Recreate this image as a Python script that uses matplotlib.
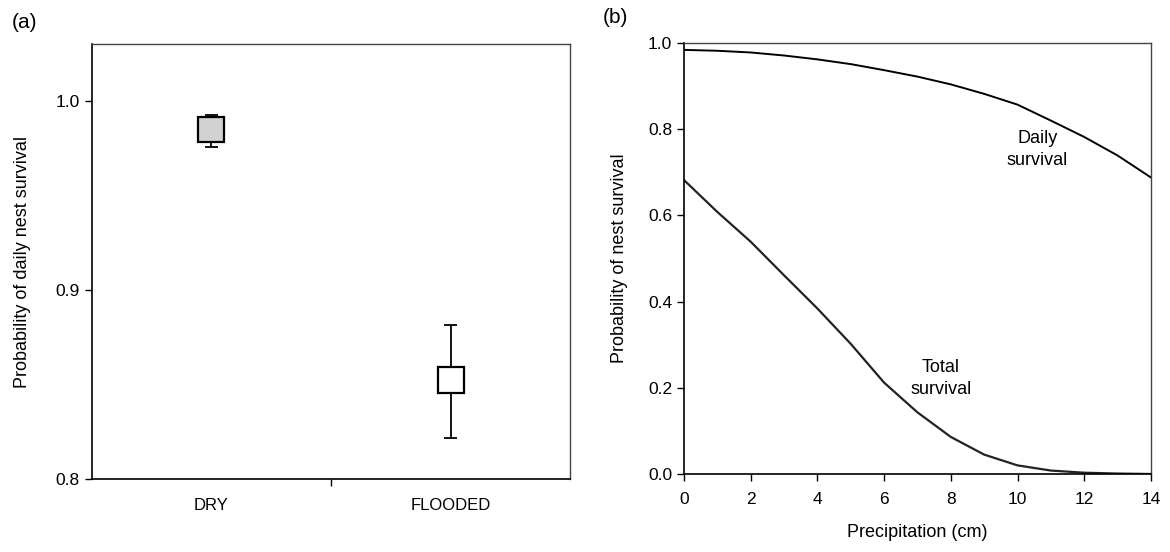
import numpy as np
import matplotlib.pyplot as plt

plt.rcParams['font.family'] = ['Liberation Sans', 'DejaVu Sans']

# (a) daily nest survival by nest condition
categories = ["DRY", "FLOODED"]
box_low = [0.978, 0.8455]
box_high = [0.9915, 0.8593]
whisker_low = [0.9757, 0.8217]
whisker_high = [0.9926, 0.8815]
box_fill = ["#d2d2d2", "white"]

# (b) survival against precipitation
precip = [0, 1, 2, 3, 4, 5, 6, 7, 8, 9, 10, 11, 12, 13, 14]
daily = [0.984, 0.982, 0.978, 0.971, 0.962, 0.951, 0.937, 0.922, 0.904,
         0.882, 0.857, 0.820, 0.782, 0.739, 0.688]
total = [0.682, 0.608, 0.539, 0.461, 0.384, 0.302, 0.212, 0.143, 0.086,
         0.045, 0.020, 0.008, 0.003, 0.001, 0.0]

fig = plt.figure(figsize=(11.7, 5.52), dpi=100)
ax1 = fig.add_axes([0.0784, 0.1322, 0.409, 0.788])
ax2 = fig.add_axes([0.5846, 0.1413, 0.3991, 0.7808])


def style_axes(ax):
    for side in ["left", "bottom"]:
        ax.spines[side].set_linewidth(1.2)
        ax.spines[side].set_color("black")
    for side in ["top", "right"]:
        ax.spines[side].set_linewidth(1.0)
        ax.spines[side].set_color("#444444")
    ax.tick_params(direction="out", length=5, width=1, labelsize=12.5, colors="black")


# panel a: box of interval plus whiskers
pos = np.arange(1, len(categories) + 1)
bw = 0.109
cw = 0.056
for p, lo, hi, wlo, whi, fc in zip(pos, box_low, box_high, whisker_low, whisker_high, box_fill):
    ax1.vlines(p, wlo, lo, color="black", lw=1.3, zorder=2)
    ax1.vlines(p, hi, whi, color="black", lw=1.3, zorder=2)
    ax1.hlines([wlo, whi], p - cw / 2, p + cw / 2, color="black", lw=1.3, zorder=2)
    ax1.add_patch(plt.Rectangle((p - bw / 2, lo), bw, hi - lo, facecolor=fc,
                                edgecolor="black", lw=1.6, zorder=3))

ax1.set_xlim(0.5, 2.5)
ax1.set_ylim(0.8, 1.030)
ax1.set_yticks([0.8, 0.9, 1.0])
ax1.set_yticklabels(["0.8", "0.9", "1.0"])
ax1.set_xticks([1.5])
ax1.set_xticklabels([""])
for p, name in zip(pos, categories):
    ax1.text(p, -0.06, name, transform=ax1.get_xaxis_transform(),
             ha="center", va="center", fontsize=12)
ax1.set_ylabel("Probability of daily nest survival", fontsize=13, labelpad=18)
style_axes(ax1)

# panel b: daily and total survival curves
ax2.plot(precip, daily, color="black", lw=1.4)
ax2.plot(precip, total, color="#222222", lw=1.6)
ax2.text(10.6, 0.753, "Daily\nsurvival", ha="center", va="center",
         fontsize=13, linespacing=1.4)
ax2.text(7.7, 0.222, "Total\nsurvival", ha="center", va="center",
         fontsize=13, linespacing=1.4)
ax2.set_xlim(0, 14)
ax2.set_ylim(0, 1.0)
ax2.set_xticks(range(0, 15, 2))
ax2.set_yticks(np.arange(0, 1.01, 0.2))
ax2.set_yticklabels(["0.0", "0.2", "0.4", "0.6", "0.8", "1.0"])
ax2.set_xlabel("Precipitation (cm)", fontsize=13, labelpad=12)
ax2.set_ylabel("Probability of nest survival", fontsize=13, labelpad=14)
style_axes(ax2)
ax2.tick_params(axis="x", pad=8)

fig.text(0.010, 0.950, "(a)", fontsize=15)
fig.text(0.515, 0.958, "(b)", fontsize=15)

fig.savefig("out.png", dpi=100)
